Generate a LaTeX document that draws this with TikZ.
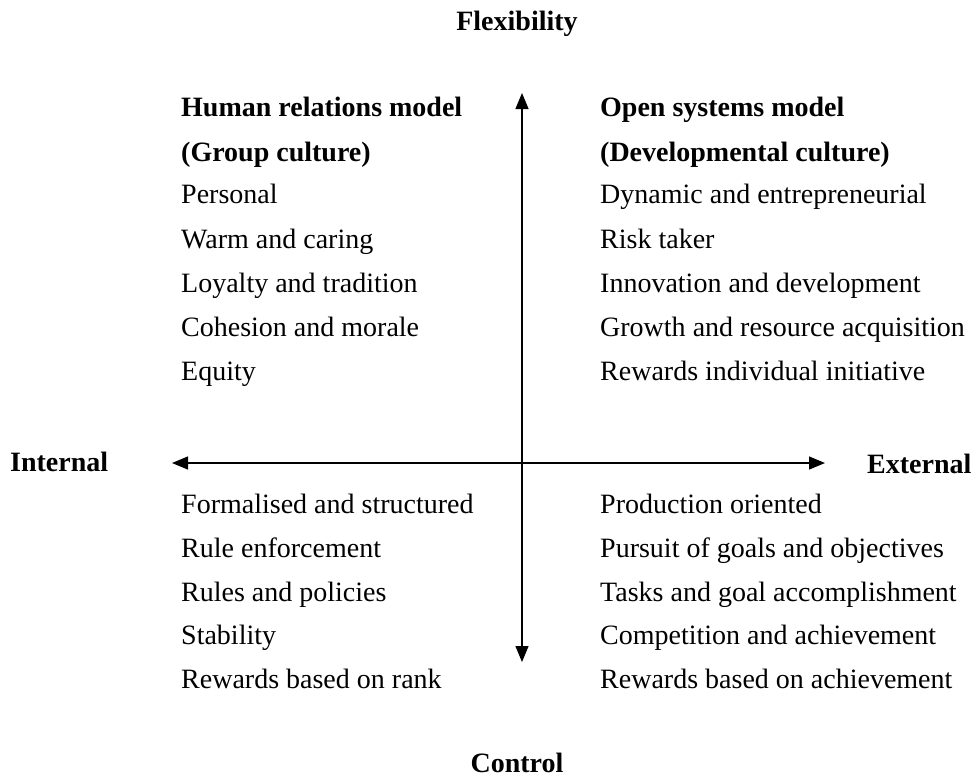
\documentclass[tikz,border=0pt]{standalone}
\usepackage{fontspec}
\setmainfont{Liberation Serif}
\usetikzlibrary{arrows.meta}
\begin{document}
\begin{tikzpicture}[x=1pt,y=-1pt,
  txt/.style={inner sep=0pt,text height=0.7em,text depth=0.22em,yshift=-6pt,font=\fontsize{28}{30}\selectfont},
  item/.style={txt,anchor=west},
  head/.style={txt,anchor=west,font=\fontsize{28}{30}\selectfont\bfseries},
  axislabel/.style={txt,font=\fontsize{28}{30}\selectfont\bfseries},
  axis/.style={line width=1.3pt,-{Triangle[length=16pt,width=13pt]}}]
\useasboundingbox (0,0) rectangle (976,780);
% axis end points
\coordinate (top) at (522,93);
\coordinate (bot) at (522,662);
\coordinate (lft) at (172,463);
\coordinate (rgt) at (825,463);
\coordinate (ctr) at (522,463);
\draw[axis] (ctr) -- (top);
\draw[axis] (ctr) -- (bot);
\draw[axis] (ctr) -- (lft);
\draw[axis] (ctr) -- (rgt);
\node[axislabel] (flex) at (517,22) {Flexibility};
\node[axislabel] (ctrl) at (517,764) {Control};
\node[axislabel,anchor=west] (int) at (10,463) {Internal};
\node[axislabel,anchor=west] (ext) at (867,465) {External};
% top left
\node[head] (hl1) at (181,108) {Human relations model};
\node[head] (hl2) at (181,153) {(Group culture)};
\node[item] (l1) at (181,195) {Personal};
\node[item] (l2) at (181,240) {Warm and caring};
\node[item] (l3) at (181,284) {Loyalty and tradition};
\node[item] (l4) at (181,328) {Cohesion and morale};
\node[item] (l5) at (181,372) {Equity};
% top right
\node[head] (hr1) at (600,108) {Open systems model};
\node[head] (hr2) at (600,153) {(Developmental culture)};
\node[item] (r1) at (600,195) {Dynamic and entrepreneurial};
\node[item] (r2) at (600,240) {Risk taker};
\node[item] (r3) at (600,284) {Innovation and development};
\node[item] (r4) at (600,328) {Growth and resource acquisition};
\node[item] (r5) at (600,372) {Rewards individual initiative};
% bottom left
\node[item] (bl1) at (181,505) {Formalised and structured};
\node[item] (bl2) at (181,549) {Rule enforcement};
\node[item] (bl3) at (181,593) {Rules and policies};
\node[item] (bl4) at (181,636) {Stability};
\node[item] (bl5) at (181,680) {Rewards based on rank};
% bottom right
\node[item] (br1) at (600,505) {Production oriented};
\node[item] (br2) at (600,549) {Pursuit of goals and objectives};
\node[item] (br3) at (600,593) {Tasks and goal accomplishment};
\node[item] (br4) at (600,636) {Competition and achievement};
\node[item] (br5) at (600,680) {Rewards based on achievement};
\end{tikzpicture}
\end{document}
